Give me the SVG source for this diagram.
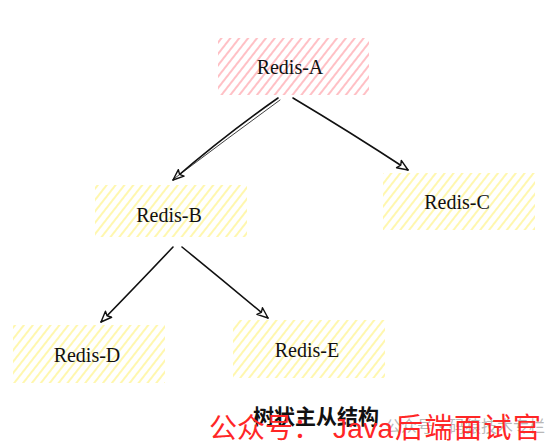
<svg xmlns="http://www.w3.org/2000/svg" width="549" height="446" viewBox="0 0 549 446">
<defs>
<pattern id="hatchRed" patternUnits="userSpaceOnUse" width="7" height="7" patternTransform="rotate(38)">
<line x1="2" y1="0" x2="2" y2="7" stroke="#ffb0b6" stroke-width="1.6"/>
</pattern>
<pattern id="hatchYel" patternUnits="userSpaceOnUse" width="7" height="7" patternTransform="rotate(38)">
<line x1="2" y1="0" x2="2" y2="7" stroke="#fff59a" stroke-width="1.6"/>
</pattern>
<marker id="arr" viewBox="0 0 12 10" refX="11" refY="5" markerWidth="13" markerHeight="11" markerUnits="userSpaceOnUse" orient="auto">
<path d="M1,1 L11,5 L1,9 L3,5 Z" fill="#fff" stroke="#111" stroke-width="1.3" stroke-linejoin="round"/>
</marker>
</defs>
<style>
.lbl{font-family:"Liberation Serif","Times New Roman",serif;font-size:20px;fill:#111;text-anchor:middle}
.edge{stroke:#111;stroke-width:1.6;fill:none;stroke-linecap:round}
.edge2{stroke:#111;stroke-width:0.8;fill:none;stroke-linecap:round}
</style>
<rect width="549" height="446" fill="#fff"/>
<g id="node-A">
<rect x="218" y="38" width="151" height="57" fill="url(#hatchRed)"/>
<text class="lbl" x="290" y="74">Redis-A</text>
</g>
<g id="node-B">
<rect x="95" y="185" width="152" height="52" fill="url(#hatchYel)"/>
<text class="lbl" x="169" y="222">Redis-B</text>
</g>
<g id="node-C">
<rect x="383" y="173" width="152" height="57" fill="url(#hatchYel)"/>
<text class="lbl" x="457" y="209">Redis-C</text>
</g>
<g id="node-D">
<rect x="13" y="325" width="152" height="58" fill="url(#hatchYel)"/>
<text class="lbl" x="87" y="362">Redis-D</text>
</g>
<g id="node-E">
<rect x="233" y="320" width="152" height="58" fill="url(#hatchYel)"/>
<text class="lbl" x="307" y="357">Redis-E</text>
</g>
<g id="connectors">
<path class="edge" d="M278,98 Q225,135 173,180" marker-end="url(#arr)"/>
<path class="edge2" d="M280,100 Q228,138 175,178"/>
<path class="edge" d="M293,98 Q350,132 408,170" marker-end="url(#arr)"/>
<path class="edge" d="M173,247 Q140,282 101,322" marker-end="url(#arr)"/>
<path class="edge" d="M182,247 Q225,282 268,318" marker-end="url(#arr)"/>
</g>
<text x="253" y="424" font-family="'Noto Sans CJK SC',sans-serif" font-size="21" font-weight="bold" fill="#111">树状主从结构</text>
<text x="385" y="432" font-family="'Noto Sans CJK SC',sans-serif" font-size="16" fill="#999" fill-opacity="0.7">公众号·码猿技术专栏</text>
<text y="438" font-family="'Noto Sans CJK SC',sans-serif" font-size="28" fill="#ff2626"><tspan x="209">公众号：</tspan><tspan x="333" font-family="'Liberation Sans',sans-serif" font-size="28" textLength="60" lengthAdjust="spacing">Java</tspan><tspan x="395" textLength="146" lengthAdjust="spacing">后端面试官</tspan></text>
</svg>
